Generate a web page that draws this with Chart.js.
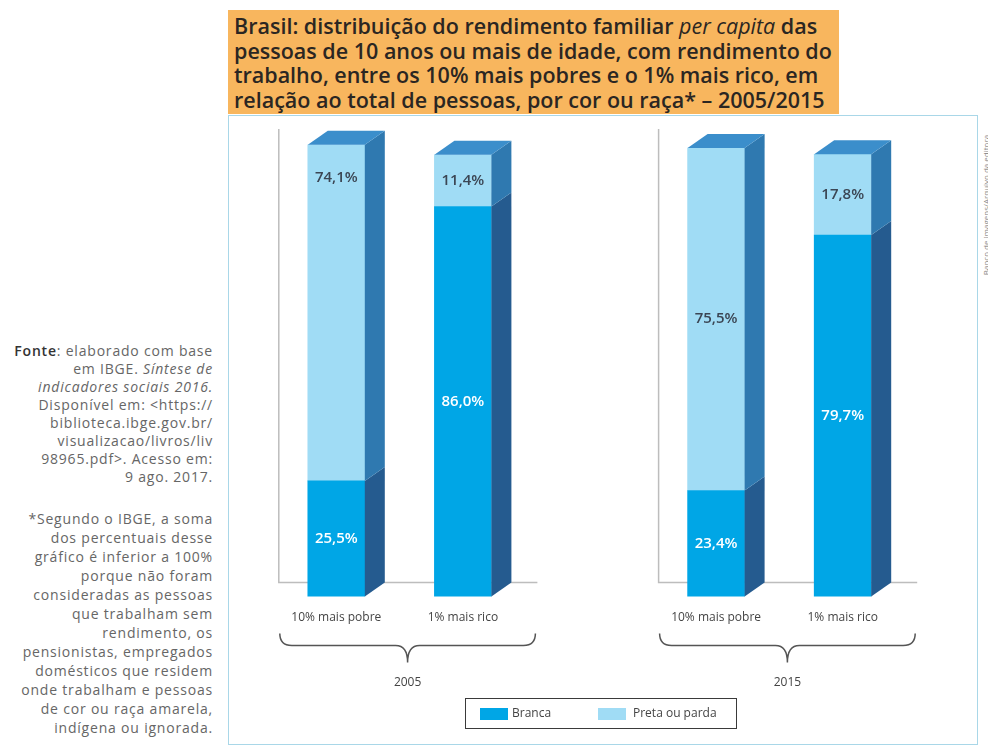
<!DOCTYPE html>
<html lang="pt-BR">
<head>
<meta charset="utf-8">
<script src="https://cdn.jsdelivr.net/npm/chart.js@4.4.1/dist/chart.umd.min.js"></script>
<style>
  body { margin: 0; width: 988px; height: 747px; background: #fff; position: relative; overflow: hidden; font-family: 'Open Sans', sans-serif; }
  #titulo { position: absolute; left: 228px; top: 10px; width: 611px; height: 104px; background: #f8b65e; box-sizing: border-box; padding: 4px 0 0 6px; font-weight: 600; font-size: 21.5px; line-height: 24.5px; color: #2b2622; white-space: nowrap; }
  #titulo i { font-weight: 400; }
  #quadro { position: absolute; left: 228px; top: 115px; width: 750px; height: 630px; border: 1.5px solid #a9d7e8; box-sizing: border-box; }
  #grafico { position: absolute; left: 228px; top: 115px; }
  .nota { position: absolute; right: 775px; text-align: right; color: #666; font-size: 14px; letter-spacing: 0.8px; white-space: nowrap; }
  #fonte { top: 342px; line-height: 18px; }
  #fonte b { color: #333; font-weight: 600; }
  #obs { top: 509px; line-height: 19px; }
  #legenda { position: absolute; left: 465px; top: 698px; width: 272px; height: 31px; border: 1.5px solid #3a3a3a; box-sizing: border-box; font-size: 12px; color: #444; }
  #legenda span.cx { position: absolute; top: 9px; width: 28px; height: 12px; }
  #legenda span.tx { position: absolute; top: 5px; }
  #credito { position: absolute; left: 985px; top: 205px; transform: translate(-50%, -50%) rotate(-90deg); font-size: 8px; color: #888; white-space: nowrap; }
</style>
</head>
<body>
<div id="titulo">Brasil: distribuição do rendimento familiar <i>per capita</i> das<br>pessoas de 10 anos ou mais de idade, com rendimento do<br>trabalho, entre os 10% mais pobres e o 1% mais rico, em<br>relação ao total de pessoas, por cor ou raça* – 2005/2015</div>
<div id="quadro"></div>
<canvas id="grafico" width="750" height="632"></canvas>
<div id="legenda"></div>
<div id="credito">Banco de imagens/Arquivo da editora</div>
<div class="nota" id="fonte"><b>Fonte</b>: elaborado com base<br>em IBGE. <i>Síntese de</i><br><i>indicadores sociais 2016.</i><br>Disponível em: &lt;https://<br>biblioteca.ibge.gov.br/<br>visualizacao/livros/liv<br>98965.pdf&gt;. Acesso em:<br>9 ago. 2017.</div>
<div class="nota" id="obs">*Segundo o IBGE, a soma<br>dos percentuais desse<br>gráfico é inferior a 100%<br>porque não foram<br>consideradas as pessoas<br>que trabalham sem<br>rendimento, os<br>pensionistas, empregados<br>domésticos que residem<br>onde trabalham e pessoas<br>de cor ou raça amarela,<br>indígena ou ignorada.</div>
<script>
// Dados (a posição vazia separa 2005 de 2015)
const categorias = ['10% mais pobre', '1% mais rico', '', '10% mais pobre', '1% mais rico'];
const anos = ['2005', '2015'];
const grupos = [[0, 1], [3, 4]];
const branca = [25.5, 86.0, null, 23.4, 79.7];
const pretaOuParda = [74.1, 11.4, null, 75.5, 17.8];

// Onde fica o rótulo da parte clara de cada barra
const rotuloPreta = ['topo', 'centro', null, 'centro', 'centro'];

const corBranca = '#00a6e6';
const corPreta = '#a0dcf5';
const DX = 20, DY = 14; // profundidade do efeito 3D

function fmt(v) {
  return v.toFixed(1).replace('.', ',') + '%';
}

function chave(ctx, x0, x1, yTopo, yMeio, yPonta) {
  const xm = (x0 + x1) / 2, r = 12;
  ctx.beginPath();
  ctx.moveTo(x0, yTopo);
  ctx.quadraticCurveTo(x0, yMeio, x0 + r, yMeio);
  ctx.lineTo(xm - r, yMeio);
  ctx.quadraticCurveTo(xm, yMeio, xm, yPonta);
  ctx.quadraticCurveTo(xm, yMeio, xm + r, yMeio);
  ctx.lineTo(x1 - r, yMeio);
  ctx.quadraticCurveTo(x1, yMeio, x1, yTopo);
  ctx.stroke();
}

// Linhas de fundo em L e chaves com os anos
const fundo = {
  id: 'fundo',
  beforeDatasetsDraw(chart) {
    const { ctx, scales: { x, y } } = chart;
    const bw = chart.getDatasetMeta(0).data[0].width;
    ctx.save();
    ctx.strokeStyle = '#bdbdbd';
    ctx.lineWidth = 1.5;
    grupos.forEach(g => {
      const x0 = x.getPixelForValue(g[0]) - bw / 2 - 29;
      const x1 = x.getPixelForValue(g[1]) + bw / 2 + DX + 26;
      const yb = y.getPixelForValue(0) - DY;
      ctx.beginPath();
      ctx.moveTo(x0, y.getPixelForValue(100) - DY);
      ctx.lineTo(x0, yb);
      ctx.lineTo(x1, yb);
      ctx.stroke();
    });
    ctx.restore();
  },
  afterDraw(chart) {
    const { ctx, scales: { x, y } } = chart;
    const bw = chart.getDatasetMeta(0).data[0].width;
    const base = y.getPixelForValue(0);
    ctx.save();
    ctx.strokeStyle = '#555';
    ctx.lineWidth = 1.5;
    ctx.fillStyle = '#444';
    ctx.font = '12px "Open Sans"';
    ctx.textAlign = 'center';
    ctx.textBaseline = 'middle';
    grupos.forEach((g, i) => {
      const x0 = x.getPixelForValue(g[0]) - bw / 2 - 28;
      const x1 = x.getPixelForValue(g[1]) + bw / 2 + DX + 24;
      chave(ctx, x0, x1, base + 37, base + 49, base + 66);
      ctx.fillText(anos[i], (x0 + x1) / 2, base + 86);
    });
    ctx.restore();
  }
};

// Faces laterais, tampa e rótulos das barras
const barras3d = {
  id: 'barras3d',
  afterDatasetsDraw(chart) {
    const ctx = chart.ctx;
    const m0 = chart.getDatasetMeta(0), m1 = chart.getDatasetMeta(1);
    ctx.save();
    categorias.forEach((c, i) => {
      if (branca[i] == null) return;
      const b = m0.data[i], p = m1.data[i];
      const right = b.x + b.width / 2, left = b.x - b.width / 2;
      const lados = [[b, '#255b8f'], [p, '#2f79b0']];
      lados.forEach(([el, cor]) => {
        ctx.fillStyle = cor;
        ctx.beginPath();
        ctx.moveTo(right, el.base);
        ctx.lineTo(right, el.y);
        ctx.lineTo(right + DX, el.y - DY);
        ctx.lineTo(right + DX, el.base - DY);
        ctx.closePath();
        ctx.fill();
      });
      ctx.fillStyle = '#3b8ecb';
      ctx.beginPath();
      ctx.moveTo(left, p.y);
      ctx.lineTo(left + DX, p.y - DY);
      ctx.lineTo(right + DX, p.y - DY);
      ctx.lineTo(right, p.y);
      ctx.closePath();
      ctx.fill();

      ctx.textAlign = 'center';
      ctx.textBaseline = 'middle';
      ctx.font = '600 15px "Open Sans"';
      ctx.fillStyle = '#fff';
      ctx.fillText(fmt(branca[i]), b.x, (b.y + b.base) / 2);
      ctx.fillStyle = '#3b4654';
      const yp = rotuloPreta[i] === 'topo' ? p.y + 33 : (p.y + p.base) / 2;
      ctx.fillText(fmt(pretaOuParda[i]), p.x, yp);
    });
    ctx.restore();
  }
};

const grafico = new Chart(document.getElementById('grafico'), {
  type: 'bar',
  data: {
    labels: categorias,
    datasets: [{
      label: 'Branca',
      data: branca,
      backgroundColor: corBranca,
      borderWidth: 0
    }, {
      label: 'Preta ou parda',
      data: pretaOuParda,
      backgroundColor: corPreta,
      borderWidth: 0
    }]
  },
  options: {
    responsive: false,
    animation: false,
    barThickness: 57,
    layout: { padding: { left: 45, right: 72, top: 28, bottom: 108 } },
    plugins: { legend: { display: false }, tooltip: { enabled: false } },
    scales: {
      x: {
        stacked: true,
        grid: { display: false, drawTicks: false },
        border: { display: false },
        ticks: { color: '#444', font: { family: 'Open Sans', size: 12 }, padding: 14, maxRotation: 0, autoSkip: false }
      },
      y: {
        stacked: true,
        display: false,
        min: 0,
        max: 100
      }
    }
  },
  plugins: [fundo, barras3d]
});

// Legenda com moldura, montada a partir das séries
const legenda = document.getElementById('legenda');
const posLegenda = [[14, 46], [132, 167]];
grafico.data.datasets.forEach((ds, i) => {
  const cx = document.createElement('span');
  cx.className = 'cx';
  cx.style.left = posLegenda[i][0] + 'px';
  cx.style.background = ds.backgroundColor;
  const tx = document.createElement('span');
  tx.className = 'tx';
  tx.style.left = posLegenda[i][1] + 'px';
  tx.textContent = ds.label;
  legenda.appendChild(cx);
  legenda.appendChild(tx);
});
</script>
</body>
</html>
